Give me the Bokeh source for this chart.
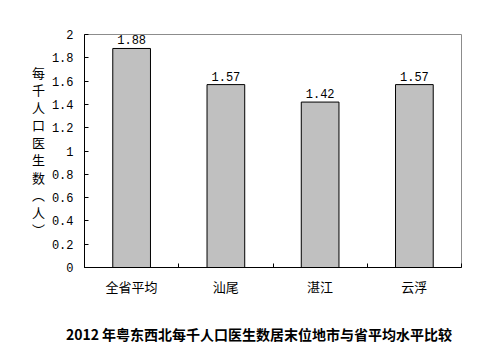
from bokeh.plotting import figure
from bokeh.models import FixedTicker, Range1d, ColumnDataSource
from bokeh.core.properties import value
from bokeh.embed import file_html
from bokeh.resources import INLINE

categories = ["全省平均", "汕尾", "湛江", "云浮"]
values = [1.88, 1.57, 1.42, 1.57]
y_ticks = [0, 0.2, 0.4, 0.6, 0.8, 1, 1.2, 1.4, 1.6, 1.8, 2]
title_text = "2012 年粤东西北每千人口医生数居末位地市与省平均水平比较"
y_label = "每千人口医生数︵人︶"

xs = [i + 0.5 for i in range(len(categories))]
src = ColumnDataSource(dict(x=xs, top=values, lab=["%.2f" % v for v in values]))

p = figure(width=503, height=347, output_backend="svg", toolbar_location=None,
           x_range=Range1d(0, len(categories)), y_range=Range1d(0, 2),
           min_border_left=84, min_border_right=42, min_border_top=34, min_border_bottom=80)
p.background_fill_color = "white"
p.border_fill_color = "white"
p.outline_line_color = "#8c8c8c"
p.xgrid.visible = False
p.ygrid.visible = False

p.vbar(x="x", top="top", width=0.4, source=src, fill_color="#c0c0c0", line_color="#000000", line_width=1)
p.text(x="x", y="top", text="lab", source=src, text_align="center", text_baseline="bottom",
       y_offset=-4, text_font=value("Liberation Mono"), text_font_size="12px", text_color="#000000")

mono = "Liberation Mono"
cjk = "Noto Sans CJK SC"

# y axis
ya = p.yaxis[0]
ya.ticker = FixedTicker(ticks=y_ticks)
ya.major_label_overrides = {0: "0", 1: "1", 2: "2"}
ya.major_label_text_font = mono
ya.major_label_text_font_size = "12px"
ya.major_label_text_color = "#000000"
ya.major_tick_in = 4
ya.major_tick_out = 0
ya.minor_tick_line_color = None
ya.major_label_standoff = 11
ya.axis_line_color = "#000000"
ya.major_tick_line_color = "#000000"
ya.axis_label = "\n".join(y_label)
ya.axis_label_orientation = "horizontal"
ya.axis_label_text_font = cjk
ya.axis_label_text_font_style = "normal"
ya.axis_label_text_font_size = "13px"
ya.axis_label_text_line_height = 0.92
ya.axis_label_standoff = 4
ya.axis_label_text_color = "#000000"

# x axis (its label carries the caption below the chart)
xa = p.xaxis[0]
xa.ticker = FixedTicker(ticks=xs, minor_ticks=list(range(len(categories) + 1)))
xa.major_label_overrides = {x: c for x, c in zip(xs, categories)}
xa.major_label_text_font = cjk
xa.major_label_text_font_size = "13px"
xa.major_label_text_color = "#000000"
xa.major_label_standoff = 9
xa.major_tick_in = 0
xa.major_tick_out = 0
xa.minor_tick_in = 4
xa.minor_tick_out = 0
xa.minor_tick_line_color = "#000000"
xa.axis_line_color = "#000000"
xa.axis_label = title_text + "\u3000\u2002\u2002"
xa.axis_label_text_font = cjk
xa.axis_label_text_font_size = "14px"
xa.axis_label_text_font_style = "bold"
xa.axis_label_text_color = "#000000"
xa.axis_label_standoff = 25

open("out.html", "w").write(file_html(p, INLINE))
